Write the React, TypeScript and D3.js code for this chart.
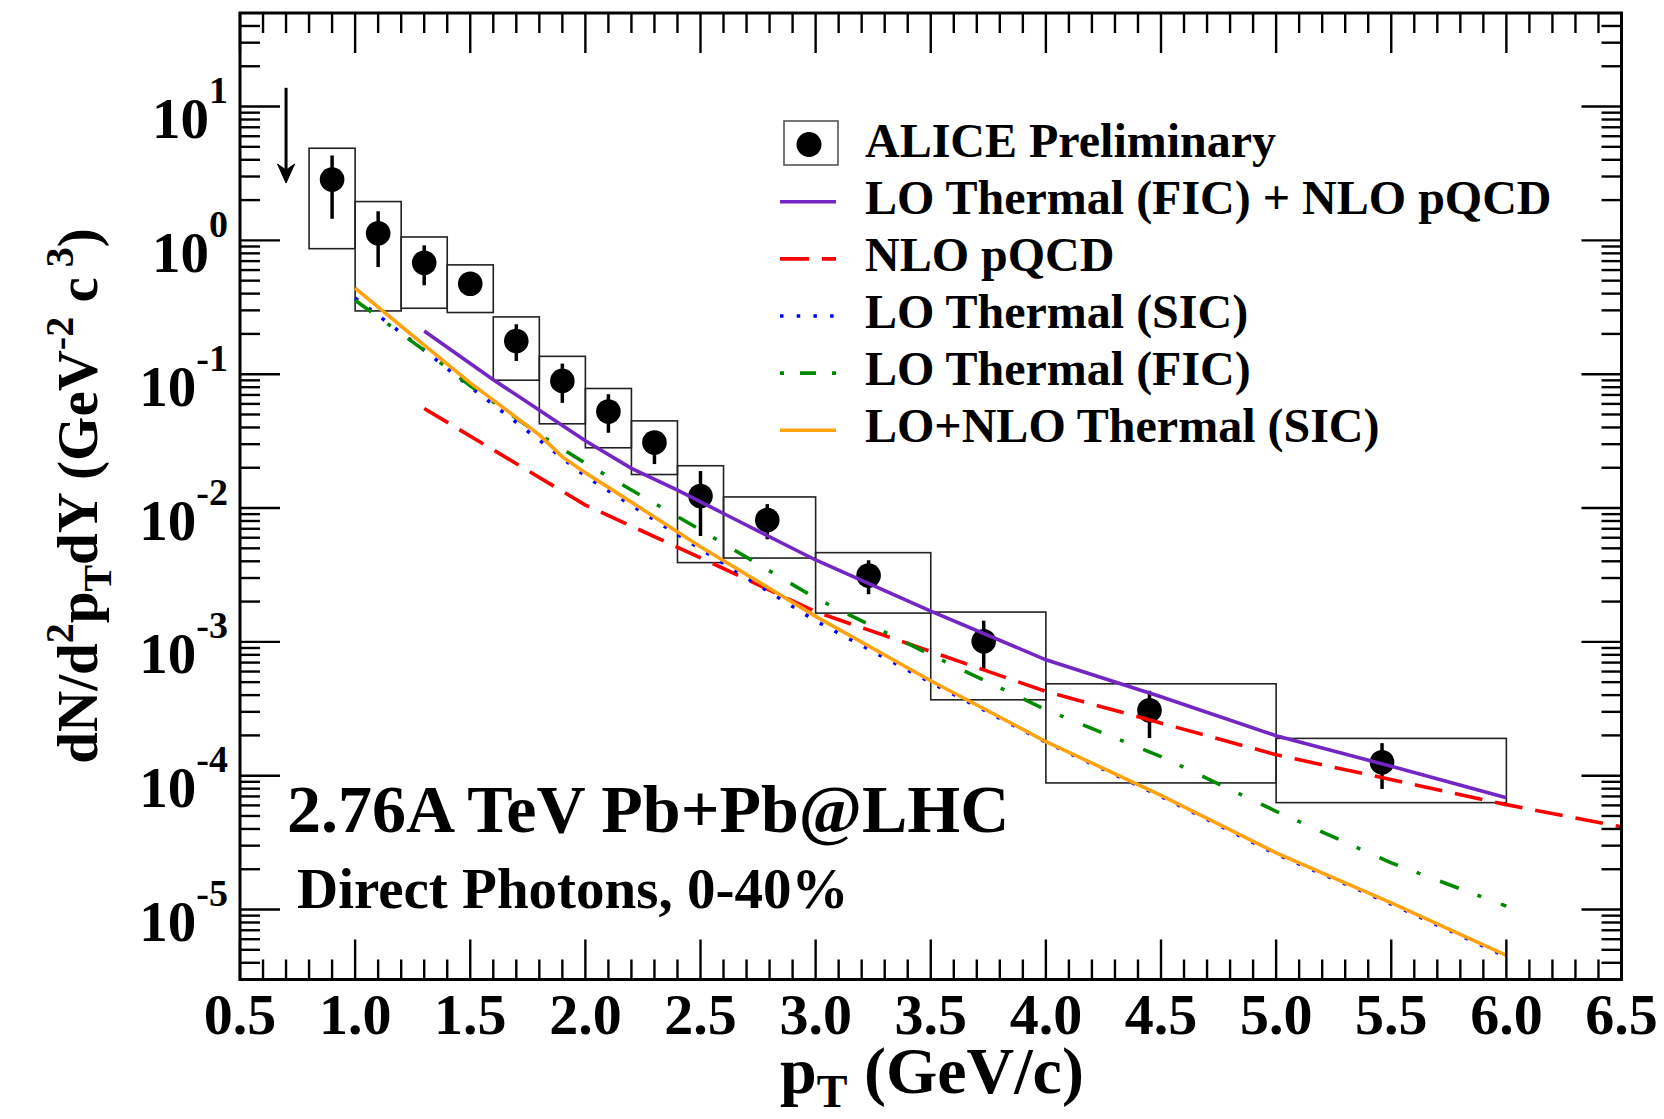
import React from "react";
import * as d3 from "d3";

// ALICE preliminary direct photons, Pb+Pb 2.76 TeV, 0-40%
const ptData = [0.9, 1.1, 1.3, 1.5, 1.7, 1.9, 2.1, 2.3, 2.5, 2.79, 3.23, 3.73, 4.45, 5.46];
const yieldData = [2.85, 1.13, 0.68, 0.474, 0.177, 0.0891, 0.0527, 0.0309, 0.0123, 0.00813, 0.00313, 0.00101, 0.000308, 0.000126];
const statLow = [1.45, 0.632, 0.462, 0.44, 0.1257, 0.0611, 0.0365, 0.0213, 0.00618, 0.00584, 0.00227, 0.000611, 0.000191, 0.0000796];
const statHigh = [4.31, 1.65, 0.918, 0.49, 0.236, 0.12, 0.0709, 0.036, 0.0189, 0.0107, 0.00407, 0.00144, 0.000431, 0.000175];
const binLow = [0.8, 1.0, 1.2, 1.4, 1.6, 1.8, 2.0, 2.2, 2.4, 2.6, 3.0, 3.5, 4.0, 5.0];
const binHigh = [1.0, 1.2, 1.4, 1.6, 1.8, 2.0, 2.2, 2.4, 2.6, 3.0, 3.5, 4.0, 5.0, 6.0];
const sysLow = [0.867, 0.297, 0.311, 0.289, 0.0902, 0.0426, 0.0282, 0.0178, 0.00391, 0.00423, 0.00164, 0.000369, 0.0000883, 0.0000629];
const sysHigh = [4.88, 1.95, 1.06, 0.656, 0.268, 0.136, 0.0782, 0.0448, 0.0207, 0.0121, 0.00464, 0.00167, 0.000486, 0.00019];

// model curves
const ficNloPt = [1.3, 1.6, 2.0, 2.2, 2.4, 2.6, 3.0, 3.5, 4.0, 4.5, 5.0, 5.5, 6.0];
const ficNloY = [0.2105, 0.091, 0.0318, 0.0198, 0.0136, 0.0091, 0.00409, 0.0017, 0.000734, 0.000389, 0.000199, 0.0001175, 0.0000685];

const nloPt = [1.3, 2.0, 2.5, 3.0, 3.5, 4.0, 5.0, 6.0, 6.5];
const nloY = [0.0554, 0.01053, 0.00425, 0.00168, 0.000847, 0.000426, 0.0001435, 0.0000608, 0.0000415];

const sicPt = [1.0, 1.3, 1.5, 1.8, 2.0, 2.5, 3.0, 3.5, 4.0, 4.5, 5.0, 5.5, 6.0];
const sicY = [0.371, 0.151, 0.0804, 0.0322, 0.01733, 0.00494, 0.001435, 0.000497, 0.000178, 0.00007, 0.000026, 0.000011, 0.00000445];

const ficPt = [1.0, 1.3, 1.5, 1.8, 2.0, 2.5, 3.0, 3.5, 4.0, 4.5, 5.0, 5.5, 6.0];
const ficY = [0.357, 0.151, 0.082, 0.0355, 0.0216, 0.00686, 0.00212, 0.0008, 0.000311, 0.000139, 0.0000542, 0.0000223, 0.0000106];

const sicNloPt = [1.0, 1.3, 1.5, 1.8, 1.9, 2.0, 2.1, 2.5, 3.0, 3.5, 4.0, 4.5, 5.0, 5.5, 6.0];
const sicNloY = [0.44, 0.165, 0.0861, 0.0352, 0.0241, 0.01834, 0.01427, 0.00514, 0.00155, 0.000512, 0.00018, 0.0000713, 0.0000265, 0.0000112, 0.00000454];

// arrow at top left (pT, from, to)
const arrowPt = 0.7;
const arrowFrom = 13.8;
const arrowTo = 2.68;

const xTickValues = [0.5, 1.0, 1.5, 2.0, 2.5, 3.0, 3.5, 4.0, 4.5, 5.0, 5.5, 6.0, 6.5];
const yDecades = [-5, -4, -3, -2, -1, 0, 1];

const legendLabels = [
  "ALICE Preliminary",
  "LO Thermal (FIC) + NLO pQCD",
  "NLO pQCD",
  "LO Thermal (SIC)",
  "LO Thermal (FIC)",
  "LO+NLO Thermal (SIC)",
];

const W = 1664;
const H = 1119;
const L = 240;
const R = 1621.5;
const T = 13;
const B = 979.5;
const FONT = "'Liberation Serif', 'Times New Roman', serif";

const curveStyles = [
  { color: "#7326c4", dash: "none" },
  { color: "#ff0000", dash: "28 13" },
  { color: "#0000ff", dash: "3.5 13.2" },
  { color: "#008a00", dash: "20 20 4 21" },
  { color: "#ffa20f", dash: "none" },
];
const legendDash = ["none", "29 13", "3.5 13.2", "4 16 16 16", "none"];

export default function App() {
  const x = d3.scaleLinear().domain([0.5, 6.5]).range([L, R]);
  const y = d3.scaleLog().domain([3e-6, 50]).range([B, T]);

  const path = (xs: number[], ys: number[]) =>
    d3.line<number>().x((_, i) => x(xs[i])).y((d) => y(d))(ys) || "";

  const curves = [
    path(ficNloPt, ficNloY),
    path(nloPt, nloY),
    path(sicPt, sicY),
    path(ficPt, ficY),
    path(sicNloPt, sicNloY),
  ];

  const xMinor = d3.range(5, 66).map((i) => i / 10);
  const yMinor: number[] = [];
  for (let k = -6; k <= 1; k++) {
    for (let m = 2; m <= 9; m++) {
      const v = m * Math.pow(10, k);
      if (v > 3e-6 && v < 50) yMinor.push(v);
    }
  }

  const ax = x(arrowPt);
  const ay0 = y(arrowFrom);
  const ay1 = y(arrowTo);

  const legX = 780;
  const legTextX = 865;
  const legRow = (i: number) => 156.7 + i * 57.1;

  return (
    <div style={{ position: "absolute", left: 0, top: 0, width: W, height: H, background: "#fff" }}>
      <svg width={W} height={H} viewBox={`0 0 ${W} ${H}`} fontFamily={FONT} fontWeight="bold">
        <rect x={0} y={0} width={W} height={H} fill="#fff" />

        {/* systematic boxes */}
        {ptData.map((_, i) => (
          <rect
            key={"box" + i}
            x={x(binLow[i])}
            y={y(sysHigh[i])}
            width={x(binHigh[i]) - x(binLow[i])}
            height={y(sysLow[i]) - y(sysHigh[i])}
            fill="none"
            stroke="#222"
            strokeWidth={1.6}
          />
        ))}

        {/* stat errors and markers */}
        {ptData.map((p, i) => (
          <g key={"pt" + i}>
            <line x1={x(p)} x2={x(p)} y1={y(statLow[i])} y2={y(statHigh[i])} stroke="#000" strokeWidth={3.5} />
            <circle cx={x(p)} cy={y(yieldData[i])} r={12.3} fill="#000" />
          </g>
        ))}

        {/* model curves */}
        {curves.map((d, i) => (
          <path
            key={"c" + i}
            d={d}
            fill="none"
            stroke={curveStyles[i].color}
            strokeWidth={3.6}
            strokeDasharray={curveStyles[i].dash}
          />
        ))}

        {/* arrow */}
        <line x1={ax} x2={ax} y1={ay0} y2={ay1 - 8} stroke="#000" strokeWidth={3} />
        <polygon
          points={`${ax},${ay1} ${ax - 8.5},${ay1 - 19} ${ax},${ay1 - 13} ${ax + 8.5},${ay1 - 19}`}
          fill="#000"
          stroke="#000"
          strokeWidth={1}
          strokeLinejoin="round"
        />

        {/* frame */}
        <rect x={L} y={T} width={R - L} height={B - T} fill="none" stroke="#000" strokeWidth={3} />

        {/* x ticks */}
        {xMinor.map((v, i) => {
          const len = i % 5 === 0 ? 40 : 20;
          return (
            <g key={"xt" + i}>
              <line x1={x(v)} x2={x(v)} y1={B} y2={B - len} stroke="#000" strokeWidth={2.4} />
              <line x1={x(v)} x2={x(v)} y1={T} y2={T + len} stroke="#000" strokeWidth={2.4} />
            </g>
          );
        })}
        {xTickValues.map((v) => (
          <text key={"xl" + v} x={x(v)} y={1034} fontSize={58} textAnchor="middle">
            {v.toFixed(1)}
          </text>
        ))}

        {/* y ticks */}
        {yDecades.map((k) => {
          const yy = y(Math.pow(10, k));
          return (
            <g key={"yd" + k}>
              <line x1={L} x2={L + 40} y1={yy} y2={yy} stroke="#000" strokeWidth={2.4} />
              <line x1={R} x2={R - 40} y1={yy} y2={yy} stroke="#000" strokeWidth={2.4} />
              <text x={228} y={yy + 31.5} fontSize={57} textAnchor="end">
                10
                <tspan fontSize={38} dy={-35}>
                  {k < 0 ? "-" + Math.abs(k) : String(k)}
                </tspan>
              </text>
            </g>
          );
        })}
        {yMinor.map((v, i) => (
          <g key={"ym" + i}>
            <line x1={L} x2={L + 20} y1={y(v)} y2={y(v)} stroke="#000" strokeWidth={2.4} />
            <line x1={R} x2={R - 20} y1={y(v)} y2={y(v)} stroke="#000" strokeWidth={2.4} />
          </g>
        ))}

        {/* axis titles */}
        <text x={932} y={1093} fontSize={66} textAnchor="middle">
          p<tspan fontSize={46} dy={14}>T</tspan>
          <tspan dy={-14}> (GeV/c)</tspan>
        </text>
        <text transform="translate(97,496) rotate(-90)" fontSize={57} textAnchor="middle">
          dN/d<tspan fontSize={40} dy={-24}>2</tspan>
          <tspan dy={24}>p</tspan>
          <tspan fontSize={40} dy={14}>T</tspan>
          <tspan dy={-14}>dY (GeV</tspan>
          <tspan fontSize={40} dy={-24}>-2</tspan>
          <tspan dy={24}> c</tspan>
          <tspan fontSize={40} dy={-24}> 3</tspan>
          <tspan dy={24}>)</tspan>
        </text>

        {/* annotations */}
        <text x={287} y={832} fontSize={68}>2.76A TeV Pb+Pb@LHC</text>
        <text x={297} y={908} fontSize={57}>Direct Photons, 0-40%</text>

        {/* legend */}
        <rect x={784} y={121} width={54} height={44} fill="none" stroke="#555" strokeWidth={1.6} />
        <circle cx={809} cy={144.5} r={12.5} fill="#000" />
        {curveStyles.map((s, i) => (
          <line
            key={"ll" + i}
            x1={legX}
            x2={legX + 56}
            y1={legRow(i + 1) - 12}
            y2={legRow(i + 1) - 12}
            stroke={s.color}
            strokeWidth={3.6}
            strokeDasharray={legendDash[i]}
          />
        ))}
        {legendLabels.map((t, i) => (
          <text key={"lt" + i} x={legTextX} y={legRow(i)} fontSize={48}>
            {t}
          </text>
        ))}
      </svg>
    </div>
  );
}
